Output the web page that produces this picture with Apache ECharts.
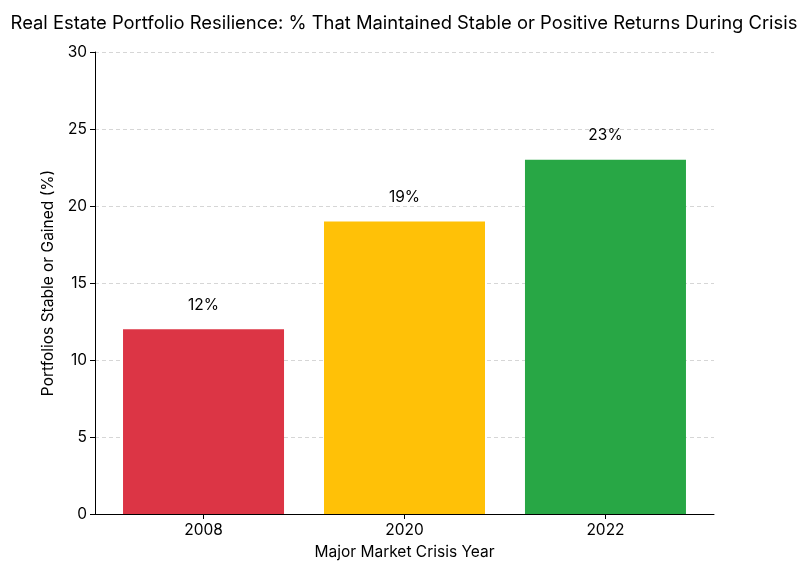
<!DOCTYPE html>
<html><head><meta charset="utf-8">
<script src="https://cdn.jsdelivr.net/npm/echarts@6/dist/echarts.min.js"></script>
<style>html,body{margin:0;padding:0;background:#fff}#c{width:808px;height:571px}</style>
</head><body><div id="c"></div>
<script>
const categories = ['2008', '2020', '2022'];
const values = [12, 19, 23];
const barColors = ['#dc3545', '#ffc107', '#28a745'];
const yTicks = { min: 0, max: 30, interval: 5 };
const xPositions = [0, 1, 2];

const chart = echarts.init(document.getElementById('c'));
const font = 'Inter, "Noto Sans", sans-serif';
chart.setOption({
  animation: false,
  textStyle: { fontFamily: font },
  title: {
    text: 'Real Estate Portfolio Resilience: % That Maintained Stable or Positive Returns During Crisis',
    left: 'center', top: 9,
    textStyle: { fontSize: 18.4, fontWeight: 'normal', color: '#000', fontFamily: font }
  },
  grid: { left: 95, right: 94, top: 52, bottom: 57 },
  xAxis: {
    type: 'value', min: -0.54, max: 2.54,
    name: 'Major Market Crisis Year', nameLocation: 'middle', nameGap: 30,
    nameTextStyle: { fontSize: 15.5, color: '#000' },
    axisLine: { show: true, onZero: false, lineStyle: { color: '#000', width: 1 } },
    axisTick: { show: true, customValues: xPositions, length: 5, lineStyle: { color: '#000' } },
    axisLabel: { customValues: xPositions, fontSize: 15.5, color: '#000', margin: 8,
      formatter: v => categories[Math.round(v)] },
    splitLine: { show: false }
  },
  yAxis: {
    type: 'value', min: yTicks.min, max: yTicks.max, interval: yTicks.interval,
    name: 'Portfolios Stable or Gained (%)', nameLocation: 'middle', nameGap: 35,
    nameTextStyle: { fontSize: 15.5, color: '#000' },
    axisLine: { show: true, onZero: false, lineStyle: { color: '#000', width: 1 } },
    axisTick: { show: true, length: 5, lineStyle: { color: '#000' } },
    axisLabel: { fontSize: 15.5, color: '#000', margin: 8 },
    splitLine: { lineStyle: { color: '#cccccc', type: [4, 3], width: 0.8 } }
  },
  series: [{
    type: 'bar',
    barWidth: 161,
    data: values.map((v, i) => ({ value: [xPositions[i], v], itemStyle: { color: barColors[i] } })),
    label: { show: true, position: 'top', distance: 16, formatter: p => p.value[1] + '%', fontSize: 15.5, color: '#000' }
  }]
});
</script></body></html>
